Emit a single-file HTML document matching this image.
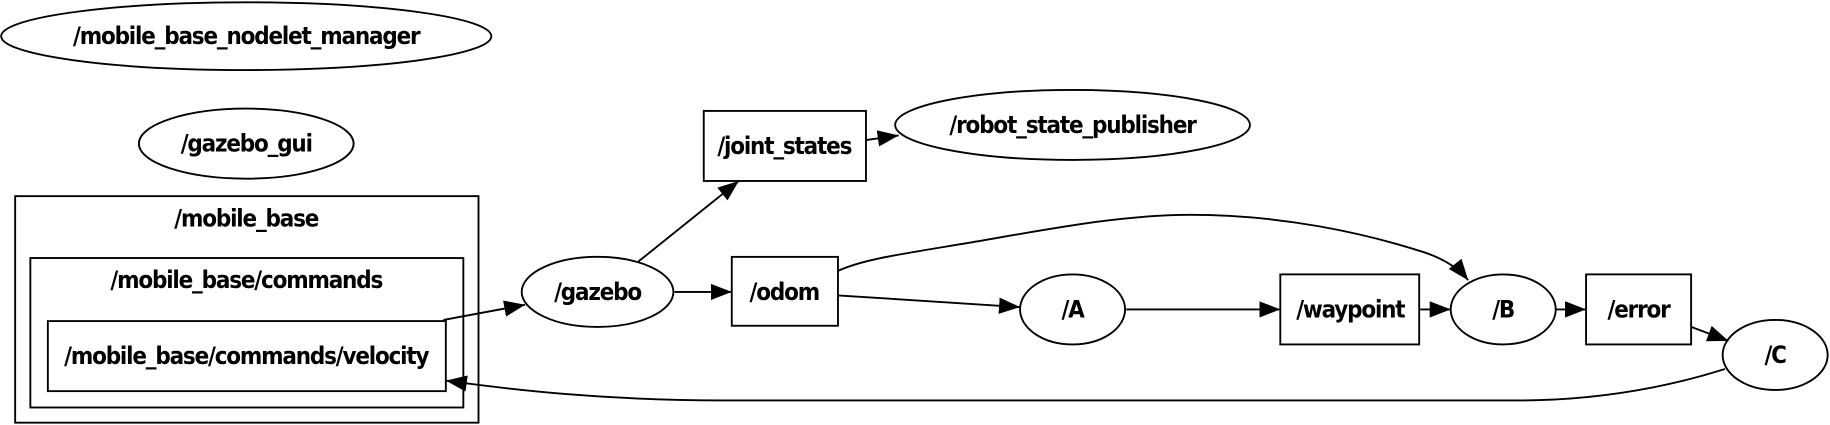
<!DOCTYPE html>
<html><head><meta charset="utf-8"><style>
html,body{margin:0;padding:0;background:#fff;}
svg{display:block;}
text{font-family:"DejaVu Sans Condensed","DejaVu Sans","Liberation Sans",sans-serif;font-weight:bold;font-size:20.5px;text-anchor:middle;dominant-baseline:central;fill:#000;letter-spacing:-1px;}
</style></head><body>
<svg width="1830" height="425" viewBox="0 0 1568 364" preserveAspectRatio="none" xmlns="http://www.w3.org/2000/svg">
<defs><marker id="a" markerUnits="userSpaceOnUse" markerWidth="20" markerHeight="14" refX="18" refY="7" orient="auto"><path d="M0,0 L18,7 L0,14 Z" fill="#000"/></marker></defs>
<g fill="none" stroke="#000" stroke-width="1.6">
<ellipse cx="211" cy="31" rx="210" ry="29"/>
<ellipse cx="211" cy="123" rx="92" ry="30"/>
<rect x="13" y="168" width="397" height="194"/>
<rect x="26" y="221" width="371" height="128"/>
<rect x="41" y="275" width="341" height="60"/>
<ellipse cx="512" cy="250" rx="65" ry="30"/>
<rect x="603" y="95" width="139" height="60"/>
<ellipse cx="919" cy="107" rx="152" ry="30"/>
<rect x="627" y="220" width="91" height="59"/>
<ellipse cx="919" cy="265" rx="45" ry="30"/>
<rect x="1097" y="235" width="119" height="60"/>
<ellipse cx="1288" cy="265" rx="45" ry="30"/>
<rect x="1359" y="235" width="90" height="60"/>
<ellipse cx="1521" cy="304" rx="45" ry="30"/>
<path d="M380,274 L450,261" marker-end="url(#a)"/>
<path d="M547,224 L633,155" marker-end="url(#a)"/>
<path d="M742,120 L770,116" marker-end="url(#a)"/>
<path d="M578,250 L627,250" marker-end="url(#a)"/>
<path d="M718,253 L874,263" marker-end="url(#a)"/>
<path d="M718,232 C740,222 770,218 830,208 C900,196 960,184 1020,184 C1100,184 1170,200 1220,216 C1238,222 1250,230 1258,240" marker-end="url(#a)"/>
<path d="M965,265 L1097,265" marker-end="url(#a)"/>
<path d="M1216,265 L1243,265" marker-end="url(#a)"/>
<path d="M1333,265 L1359,265" marker-end="url(#a)"/>
<path d="M1449,280 L1481,292" marker-end="url(#a)"/>
<path d="M1478,316 C1440,328 1380,343 1300,343 L620,343 C520,343 440,334 382,326" marker-end="url(#a)"/>
</g>
<text x="211" y="31">/mobile_base_nodelet_manager</text>
<text x="211" y="123">/gazebo_gui</text>
<text x="211" y="187">/mobile_base</text>
<text x="211" y="240">/mobile_base/commands</text>
<text x="211" y="305">/mobile_base/commands/velocity</text>
<text x="512" y="250">/gazebo</text>
<text x="672" y="125">/joint_states</text>
<text x="919" y="107">/robot_state_publisher</text>
<text x="672" y="250">/odom</text>
<text x="919" y="265">/A</text>
<text x="1157" y="265">/waypoint</text>
<text x="1288" y="265">/B</text>
<text x="1404" y="265">/error</text>
<text x="1521" y="304">/C</text>
</svg>
</body></html>
